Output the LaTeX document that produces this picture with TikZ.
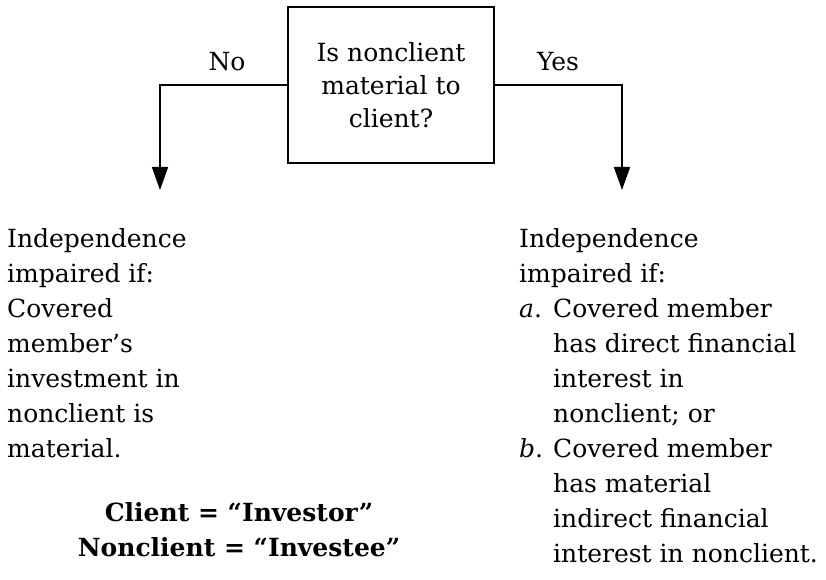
\documentclass[tikz,border=0pt]{standalone}
\usepackage{fontspec}
\setmainfont{DejaVu Serif}
\usetikzlibrary{positioning, arrows.meta}

\begin{document}
\begin{tikzpicture}[x=1pt, y=1pt, font=\fontsize{25}{35}\selectfont,
    every node/.style={inner sep=0pt},
    arr/.style={line width=1.7pt, -{Triangle[length=23pt, width=16pt]}},
    txt/.style={align=left, anchor=north west}]
  \useasboundingbox (0,0) rectangle (826,-580);
  % domanda centrale
  \node[draw, line width=1.4pt, minimum width=206pt, minimum height=156pt,
        align=center, font=\fontsize{25}{33}\selectfont] (q) at (391,-85)
       {Is nonclient\\material to\\client?};
  \node (nolbl) at (227,-62) {No};
  \node (yeslbl) at (558,-62) {Yes};
  % rami
  \coordinate (noend) at (160,-190);
  \coordinate (yesend) at (622,-190);
  \draw[arr] (q.west) -| (noend);
  \draw[arr] (q.east) -| (yesend);
  % risposte
  \node[txt] (notxt) at (7,-228)
       {Independence\\impaired if:\\Covered\\member's\\investment in\\nonclient is\\material.};
  \node[txt] (yestxt) at (519,-228)
       {Independence\\impaired if:\\\makebox[34pt][l]{\textit{a}.}Covered member\\
        \hspace*{34pt}has direct financial\\\hspace*{34pt}interest in\\\hspace*{34pt}nonclient; or\\
        \makebox[34pt][l]{\textit{b}.}Covered member\\\hspace*{34pt}has material\\
        \hspace*{34pt}indirect financial\\\hspace*{34pt}interest in nonclient.};
  % legenda
  \node[align=center, font=\fontsize{25}{35}\selectfont\bfseries] (legend) at (239,-530)
       {Client = “Investor”\\Nonclient = “Investee”};
\end{tikzpicture}
\end{document}
